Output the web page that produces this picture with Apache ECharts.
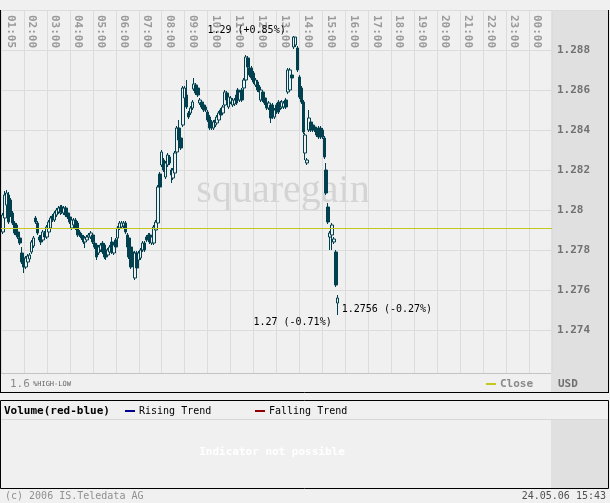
<!DOCTYPE html>
<html><head><meta charset="utf-8">
<script src="https://cdn.jsdelivr.net/npm/echarts@6/dist/echarts.min.js"></script>
<style>html,body{margin:0;padding:0;background:#f0f0f0;}#c{width:610px;height:503px;}</style>
</head><body><div id="c"></div>
<script>
// 5-minute EUR/USD candles, 24.05.06, first bar 01:05
const firstBarMinute = 65;   // minutes after 00:00
const barMinutes = 5;
const opens = [
1.27890,1.27960,1.28025,1.28075,1.28050,1.27985,1.27935,1.27925,1.27890,1.27860,
1.27785,1.27760,1.27715,1.27740,1.27755,1.27790,1.27820,1.27960,1.27935,1.27865,
1.27865,1.27850,1.27885,1.27865,1.27890,1.27910,1.27970,1.27950,1.27975,1.27990,
1.27985,1.28015,1.27985,1.28010,1.27985,1.27965,1.27910,1.27925,1.27950,1.27935,
1.27890,1.27875,1.27865,1.27840,1.27850,1.27865,1.27865,1.27875,1.27835,1.27825,
1.27785,1.27800,1.27835,1.27825,1.27800,1.27775,1.27790,1.27840,1.27785,1.27850,
1.27860,1.27910,1.27915,1.27920,1.27935,1.27875,1.27860,1.27815,1.27790,1.27660,
1.27785,1.27750,1.27760,1.27800,1.27835,1.27865,1.27850,1.27875,1.27835,1.27835,
1.27900,1.27935,1.28180,1.28225,1.28250,1.28165,1.28225,1.28265,1.28200,1.28160,
1.28185,1.28290,1.28410,1.28360,1.28425,1.28560,1.28575,1.28485,1.28485,1.28510,
1.28605,1.28625,1.28610,1.28535,1.28540,1.28525,1.28515,1.28490,1.28465,1.28440,
1.28410,1.28425,1.28435,1.28450,1.28500,1.28485,1.28525,1.28585,1.28515,1.28540,
1.28525,1.28530,1.28575,1.28600,1.28550,1.28600,1.28610,1.28650,1.28760,1.28710,
1.28710,1.28685,1.28625,1.28640,1.28615,1.28550,1.28590,1.28560,1.28535,1.28510,
1.28525,1.28525,1.28465,1.28525,1.28540,1.28510,1.28515,1.28515,1.28550,1.28590,
1.28600,1.28675,1.28815,1.28825,1.28810,1.28665,1.28610,1.28540,1.28285,1.28235,
1.28400,1.28440,1.28425,1.28415,1.28400,1.28410,1.28410,1.28400,1.28360,1.28200,
1.28015,1.27865,1.27875,1.27840,1.27790,1.27535];
const closes = [
1.27975,1.28075,1.28085,1.27940,1.27975,1.27935,1.27885,1.27875,1.27865,1.27835,
1.27740,1.27715,1.27760,1.27770,1.27775,1.27840,1.27860,1.27940,1.27885,1.27850,
1.27840,1.27890,1.27865,1.27915,1.27940,1.27960,1.27950,1.27985,1.28000,1.28010,
1.28015,1.27990,1.28010,1.27975,1.27965,1.27940,1.27950,1.27950,1.27910,1.27875,
1.27875,1.27860,1.27840,1.27860,1.27865,1.27875,1.27885,1.27840,1.27815,1.27765,
1.27815,1.27825,1.27790,1.27765,1.27765,1.27800,1.27815,1.27790,1.27825,1.27815,
1.27910,1.27935,1.27935,1.27935,1.27890,1.27815,1.27765,1.27715,1.27725,1.27785,
1.27710,1.27785,1.27800,1.27835,1.27800,1.27850,1.27875,1.27840,1.27865,1.27915,
1.27940,1.28115,1.28115,1.28290,1.28200,1.28235,1.28275,1.28235,1.28175,1.28200,
1.28285,1.28410,1.28350,1.28310,1.28610,1.28610,1.28515,1.28465,1.28510,1.28540,
1.28630,1.28585,1.28575,1.28550,1.28515,1.28500,1.28500,1.28450,1.28410,1.28410,
1.28440,1.28450,1.28465,1.28485,1.28475,1.28515,1.28590,1.28550,1.28565,1.28560,
1.28550,1.28550,1.28535,1.28550,1.28590,1.28550,1.28650,1.28765,1.28715,1.28675,
1.28660,1.28640,1.28650,1.28600,1.28590,1.28600,1.28550,1.28535,1.28510,1.28535,
1.28460,1.28465,1.28500,1.28490,1.28490,1.28535,1.28540,1.28535,1.28515,1.28700,
1.28700,1.28660,1.28865,1.28865,1.28700,1.28565,1.28540,1.28390,1.28375,1.28250,
1.28460,1.28400,1.28400,1.28400,1.28375,1.28365,1.28365,1.28365,1.28265,1.28085,
1.27940,1.27885,1.27925,1.27855,1.27625,1.27560];
const lows = [
1.27880,1.27950,1.28015,1.27930,1.27965,1.27925,1.27875,1.27865,1.27855,1.27825,
1.27730,1.27685,1.27705,1.27730,1.27745,1.27780,1.27810,1.27930,1.27875,1.27840,
1.27825,1.27840,1.27855,1.27855,1.27880,1.27900,1.27940,1.27940,1.27965,1.27980,
1.27975,1.27980,1.27975,1.27965,1.27955,1.27930,1.27900,1.27915,1.27900,1.27865,
1.27865,1.27850,1.27830,1.27810,1.27840,1.27855,1.27855,1.27830,1.27805,1.27750,
1.27775,1.27790,1.27780,1.27755,1.27750,1.27765,1.27780,1.27780,1.27775,1.27805,
1.27850,1.27900,1.27905,1.27910,1.27880,1.27805,1.27755,1.27705,1.27715,1.27650,
1.27700,1.27740,1.27750,1.27790,1.27790,1.27840,1.27840,1.27830,1.27825,1.27825,
1.27890,1.27925,1.28105,1.28215,1.28190,1.28155,1.28215,1.28225,1.28135,1.28150,
1.28175,1.28280,1.28340,1.28300,1.28415,1.28550,1.28505,1.28455,1.28475,1.28500,
1.28595,1.28575,1.28565,1.28525,1.28505,1.28490,1.28490,1.28440,1.28400,1.28400,
1.28400,1.28415,1.28425,1.28440,1.28465,1.28475,1.28515,1.28540,1.28505,1.28530,
1.28515,1.28520,1.28525,1.28540,1.28540,1.28540,1.28600,1.28640,1.28705,1.28665,
1.28650,1.28630,1.28615,1.28590,1.28580,1.28540,1.28540,1.28525,1.28500,1.28500,
1.28435,1.28455,1.28455,1.28480,1.28480,1.28500,1.28505,1.28505,1.28505,1.28580,
1.28590,1.28650,1.28805,1.28815,1.28690,1.28555,1.28530,1.28380,1.28250,1.28225,
1.28390,1.28390,1.28390,1.28390,1.28365,1.28355,1.28355,1.28355,1.28255,1.28075,
1.27930,1.27800,1.27800,1.27830,1.27615,1.27475];
const highs = [
1.27985,1.28095,1.28100,1.28090,1.28060,1.27995,1.27945,1.27935,1.27900,1.27870,
1.27815,1.27770,1.27770,1.27780,1.27785,1.27850,1.27870,1.27970,1.27945,1.27875,
1.27875,1.27900,1.27895,1.27925,1.27950,1.27970,1.27980,1.27995,1.28010,1.28020,
1.28025,1.28025,1.28020,1.28020,1.27995,1.27975,1.27960,1.27960,1.27960,1.27945,
1.27900,1.27885,1.27875,1.27870,1.27875,1.27885,1.27895,1.27885,1.27845,1.27835,
1.27825,1.27835,1.27845,1.27835,1.27810,1.27810,1.27825,1.27865,1.27835,1.27860,
1.27920,1.27945,1.27945,1.27945,1.27945,1.27885,1.27870,1.27825,1.27800,1.27795,
1.27795,1.27795,1.27810,1.27845,1.27845,1.27875,1.27885,1.27885,1.27875,1.27925,
1.27950,1.28125,1.28190,1.28300,1.28260,1.28245,1.28285,1.28275,1.28210,1.28210,
1.28295,1.28420,1.28450,1.28370,1.28620,1.28620,1.28650,1.28495,1.28520,1.28550,
1.28660,1.28635,1.28620,1.28560,1.28550,1.28535,1.28525,1.28500,1.28475,1.28450,
1.28450,1.28460,1.28475,1.28495,1.28510,1.28525,1.28600,1.28595,1.28575,1.28570,
1.28560,1.28560,1.28585,1.28610,1.28600,1.28610,1.28660,1.28775,1.28770,1.28720,
1.28720,1.28695,1.28660,1.28650,1.28625,1.28610,1.28600,1.28570,1.28545,1.28545,
1.28535,1.28535,1.28510,1.28535,1.28550,1.28545,1.28550,1.28545,1.28560,1.28710,
1.28710,1.28685,1.28870,1.28865,1.28820,1.28675,1.28620,1.28550,1.28385,1.28260,
1.28500,1.28450,1.28435,1.28425,1.28410,1.28420,1.28420,1.28410,1.28370,1.28235,
1.28035,1.27895,1.27935,1.27865,1.27800,1.27575];
const prevClose = 1.2791;
const timeTickMinutes = [65,120,180,240,300,360,420,480,540,600,660,720,780,840,900,960,1020,1080,1140,1200,1260,1320,1380,1440];
const timeTickLabels = ['01:05','02:00','03:00','04:00','05:00','06:00','07:00','08:00','09:00','10:00','11:00','12:00','13:00','14:00','15:00','16:00','17:00','18:00','19:00','20:00','21:00','22:00','23:00','00:00'];
const priceTicks = [1.274,1.276,1.278,1.280,1.282,1.284,1.286,1.288];
const priceTickLabels = ['1.274','1.276','1.278','1.28','1.282','1.284','1.286','1.288'];
const highNote = '1.29 (+0.85%)';
const lowNote = '1.27 (-0.71%)';
const lastNote = '1.2756 (-0.27%)';

const rows = opens.map((o, i) => [firstBarMinute + barMinutes * i, o, closes[i], lows[i], highs[i]]);
const last = rows[rows.length - 1];
// time labels sit just to the right of their hour line
const labelShift = 21;
const labelValues = timeTickMinutes.map(m => m + labelShift);

const candleColor = '#00404f';
const mono = '"DejaVu Sans Mono", monospace';
const chart = echarts.init(document.getElementById('c'), null, {renderer: 'canvas'});
function txt(x, y, text, font, fill, align, z) {
  return {type: 'text', x: x, y: y, z: z || 10, silent: true,
    style: {text: text, font: font, fill: fill, textAlign: align || 'left', textVerticalAlign: 'middle'}};
}
chart.setOption({
  animation: false,
  backgroundColor: '#f0f0f0',
  grid: {left: 1, right: 58, top: 10, bottom: 130, outerBoundsMode: 'none', containLabel: false},
  xAxis: {
    type: 'value', min: 60, max: 1500, interval: 60, position: 'top', offset: -39,
    axisLine: {show: false}, axisTick: {show: false},
    splitLine: {show: true, lineStyle: {color: '#dcdcdc', width: 1}},
    axisLabel: {
      show: true, rotate: 90, margin: 1,
      customValues: labelValues,
      formatter: v => timeTickLabels[labelValues.indexOf(v)],
      color: '#9a9a9a', fontFamily: mono, fontWeight: 'bold', fontSize: 11
    }
  },
  yAxis: {
    type: 'value', position: 'right', min: 1.27185, max: 1.29, scale: true,
    axisLine: {show: false},
    axisTick: {show: false, customValues: priceTicks},
    splitLine: {show: true, lineStyle: {color: '#dcdcdc', width: 1}},
    axisLabel: {
      customValues: priceTicks,
      formatter: v => priceTickLabels[priceTicks.indexOf(v)],
      margin: 5, color: '#707070', fontFamily: mono, fontWeight: 'bold', fontSize: 11
    }
  },
  series: [{
    type: 'candlestick',
    data: rows,
    barWidth: 3,
    itemStyle: {color: '#f0f0f0', color0: candleColor, borderColor: candleColor, borderColor0: candleColor, borderWidth: 1},
    emphasis: {disabled: true},
    markLine: {
      silent: true, symbol: ['none', 'none'], animation: false, precision: 5,
      label: {show: false},
      lineStyle: {color: '#c4c81e', width: 1, type: 'solid'},
      data: [{yAxis: prevClose}]
    },
    markPoint: {
      silent: true, symbol: 'circle', symbolSize: 0.1, animation: false,
      itemStyle: {color: 'rgba(0,0,0,0)'},
      label: {color: '#000', fontFamily: mono, fontSize: 10},
      data: [
        {type: 'max', valueDim: 'highest', label: {formatter: highNote, position: 'left', distance: 8, offset: [0, -6]}},
        {type: 'min', valueDim: 'lowest', label: {formatter: lowNote, position: 'left', distance: 6, offset: [0, 7]}},
        {coord: [last[0], last[2]], label: {formatter: lastNote, position: 'right', distance: 4, offset: [0, 11]}}
      ]
    }
  }],
  graphic: [
    {type: 'rect', z: -100, silent: true, shape: {x: 551, y: 10, width: 57, height: 382}, style: {fill: '#e0e0e0'}},
    {type: 'text', z: -90, silent: true, x: 283, y: 191, style: {text: 'squaregain', font: '40px "Liberation Serif", serif', fill: '#d4d4d4', textAlign: 'center', textVerticalAlign: 'middle'}},
    {type: 'line', z: 5, silent: true, shape: {x1: 0, y1: 10.5, x2: 609, y2: 10.5}, style: {stroke: '#dcdcdc', lineWidth: 1}},
    {type: 'line', z: 5, silent: true, shape: {x1: 0, y1: 373.5, x2: 551, y2: 373.5}, style: {stroke: '#c4c4c4', lineWidth: 1}},
    {type: 'line', z: 5, silent: true, shape: {x1: 0.5, y1: 10, x2: 0.5, y2: 393}, style: {stroke: '#000', lineWidth: 1}},
    {type: 'line', z: 5, silent: true, shape: {x1: 608.5, y1: 10, x2: 608.5, y2: 393}, style: {stroke: '#000', lineWidth: 1}},
    {type: 'line', z: 5, silent: true, shape: {x1: 0, y1: 392.5, x2: 609, y2: 392.5}, style: {stroke: '#000', lineWidth: 1}},
    txt(10, 384, '1.6', '11px ' + mono, '#8a8a8a'),
    txt(33, 384, '%HIGH-LOW', '7px ' + mono, '#666666'),
    {type: 'rect', z: 10, silent: true, shape: {x: 486, y: 383, width: 10, height: 2}, style: {fill: '#c4c81e'}},
    txt(500, 384, 'Close', 'bold 11px ' + mono, '#8a8a8a'),
    txt(558, 384, 'USD', 'bold 11px ' + mono, '#707070'),
    {type: 'rect', z: -100, silent: true, shape: {x: 551, y: 420, width: 57, height: 68}, style: {fill: '#e0e0e0'}},
    {type: 'rect', z: 5, silent: true, shape: {x: 0.5, y: 400.5, width: 608, height: 88}, style: {fill: 'none', stroke: '#000', lineWidth: 1}},
    {type: 'line', z: 5, silent: true, shape: {x1: 1, y1: 419.5, x2: 608, y2: 419.5}, style: {stroke: '#d8d8d8', lineWidth: 1}},
    txt(4, 411, 'Volume(red-blue)', 'bold 11px ' + mono, '#000'),
    {type: 'rect', z: 10, silent: true, shape: {x: 125, y: 410, width: 10, height: 2}, style: {fill: '#000090'}},
    txt(139, 411, 'Rising Trend', '10px ' + mono, '#000'),
    {type: 'rect', z: 10, silent: true, shape: {x: 255, y: 410, width: 10, height: 2}, style: {fill: '#900000'}},
    txt(269, 411, 'Falling Trend', '10px ' + mono, '#000'),
    txt(272, 452, 'Indicator not possible', 'bold 11px ' + mono, '#ffffff', 'center'),
    txt(5, 496, '(c) 2006 IS.Teledata AG', '10px ' + mono, '#909090'),
    txt(606, 496, '24.05.06 15:43', '10px ' + mono, '#505050', 'right')
  ]
});
</script>
</body></html>
